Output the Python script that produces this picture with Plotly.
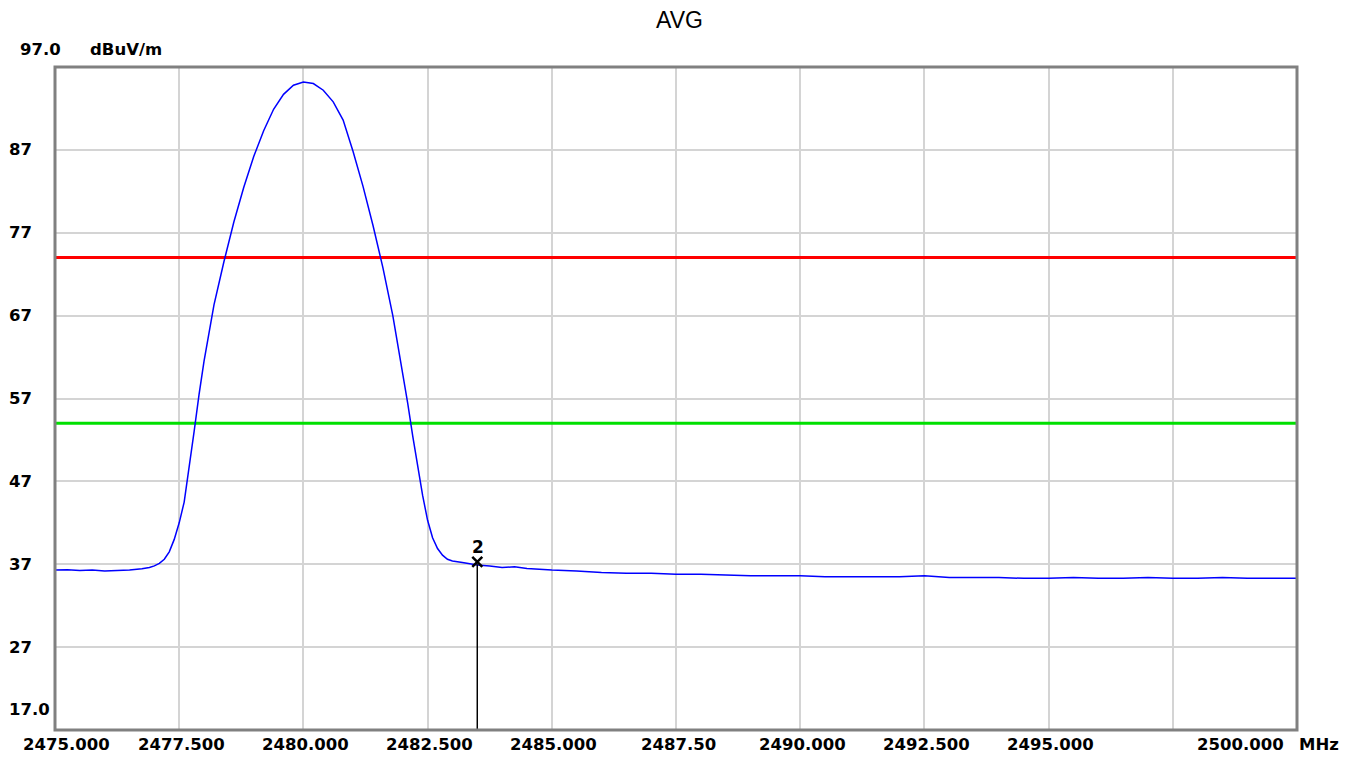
import plotly.graph_objects as go

# ---- data ----
freq_mhz = [2475.0, 2475.25, 2475.5, 2475.75, 2476.0, 2476.25, 2476.5, 2476.75, 2476.9, 2477.0,
            2477.1, 2477.2, 2477.3, 2477.4, 2477.5, 2477.6, 2477.7, 2477.8, 2477.9, 2478.0,
            2478.2, 2478.4, 2478.6, 2478.8, 2479.0, 2479.2, 2479.4, 2479.6, 2479.8, 2480.0,
            2480.2, 2480.4, 2480.6, 2480.8, 2481.0, 2481.2, 2481.4, 2481.6, 2481.8, 2482.0,
            2482.1, 2482.2, 2482.3, 2482.4, 2482.5, 2482.6, 2482.7, 2482.8, 2482.9, 2483.0,
            2483.2, 2483.5, 2483.75, 2484.0, 2484.25, 2484.5, 2484.75, 2485.0, 2485.5, 2486.0,
            2486.5, 2487.0, 2487.5, 2488.0, 2488.5, 2489.0, 2489.5, 2490.0, 2490.5, 2491.0,
            2491.5, 2492.0, 2492.5, 2493.0, 2493.5, 2494.0, 2494.5, 2495.0, 2495.5, 2496.0,
            2496.5, 2497.0, 2497.5, 2498.0, 2498.5, 2499.0, 2499.5, 2500.0]
level_dbuv = [36.3, 36.35, 36.25, 36.3, 36.2, 36.25, 36.3, 36.45, 36.6, 36.8,
              37.1, 37.6, 38.5, 40.0, 42.0, 44.5, 48.5, 53.0, 57.5, 61.5,
              68.3, 73.5, 78.3, 82.5, 86.2, 89.3, 91.9, 93.7, 94.8, 95.2,
              95.0, 94.2, 92.8, 90.6, 86.8, 82.6, 77.9, 72.8, 67.0, 60.2,
              56.4, 52.5, 48.8, 45.3, 42.3, 40.2, 38.9, 38.1, 37.6, 37.4,
              37.2, 36.9, 36.8, 36.6, 36.7, 36.5, 36.4, 36.3, 36.2, 36.0,
              35.9, 35.9, 35.8, 35.8, 35.7, 35.6, 35.6, 35.6, 35.5, 35.5,
              35.5, 35.5, 35.6, 35.4, 35.4, 35.4, 35.3, 35.3, 35.4, 35.3,
              35.3, 35.4, 35.3, 35.3, 35.4, 35.3, 35.3, 35.3]

limit_red = 74.0
limit_green = 54.0
marker_freq = 2483.5
marker_level = 37.3
marker_label = "2"

x_ticks = [2475.0, 2477.5, 2480.0, 2482.5, 2485.0, 2487.5, 2490.0, 2492.5, 2495.0, 2497.5, 2500.0]
x_tick_text = ["2475.000", "2477.500", "2480.000", "2482.500", "2485.000", "2487.50",
               "2490.000", "2492.500", "2495.000", "", "2500.000"]
y_ticks = [17, 27, 37, 47, 57, 67, 77, 87, 97]
y_tick_text = ["17.0", "27", "37", "47", "57", "67", "77", "87", ""]

X_RANGE = [2475.0, 2500.0]
Y_RANGE = [17.0, 97.0]

lab_font = dict(family="DejaVu Sans", size=16.5, color="black", weight="bold")

fig = go.Figure()
fig.add_trace(go.Scatter(x=X_RANGE, y=[limit_red, limit_red], mode="lines",
                         line=dict(color="#ff0000", width=3), hoverinfo="skip"))
fig.add_trace(go.Scatter(x=X_RANGE, y=[limit_green, limit_green], mode="lines",
                         line=dict(color="#00e000", width=3), hoverinfo="skip"))
fig.add_trace(go.Scatter(x=freq_mhz, y=level_dbuv, mode="lines",
                         line=dict(color="#0000ff", width=1.5)))
fig.add_trace(go.Scatter(x=[marker_freq, marker_freq], y=[Y_RANGE[0], marker_level - 0.3],
                         mode="lines", line=dict(color="black", width=1.5)))
fig.add_trace(go.Scatter(x=[marker_freq], y=[marker_level], mode="markers",
                         marker=dict(symbol="x-thin", size=10, line=dict(color="black", width=2.5))))

annotations = []
for v, t in zip(x_ticks, x_tick_text):
    if not t:
        continue
    shift = 2
    if v == X_RANGE[0]:
        shift = 11
    elif v == X_RANGE[1]:
        shift = -57
    annotations.append(dict(x=v, y=-0.0226, xref="x", yref="paper", text=t, showarrow=False,
                            xanchor="center", yanchor="middle", xshift=shift, font=lab_font))
annotations.append(dict(x=X_RANGE[1], y=-0.0226, xref="x", yref="paper", text="MHz", showarrow=False,
                        xanchor="left", yanchor="middle", xshift=0, font=lab_font))
for v, t in zip(y_ticks, y_tick_text):
    if not t:
        continue
    annotations.append(dict(x=-0.0386, y=v, xref="paper", yref="y", text=t, showarrow=False,
                            xanchor="left", yanchor="middle", yshift=21 if v == Y_RANGE[0] else 0,
                            font=lab_font))
annotations.append(dict(x=(18 - 55) / 1242, y=(730 - 49) / 663, xref="paper", yref="paper", text="97.0",
                        showarrow=False, xanchor="left", yanchor="middle", font=lab_font))
annotations.append(dict(x=(88 - 55) / 1242, y=(730 - 49) / 663, xref="paper", yref="paper", text="dBuV/m",
                        showarrow=False, xanchor="left", yanchor="middle", font=lab_font))
annotations.append(dict(x=marker_freq, y=marker_level, xref="x", yref="y", text=marker_label,
                        showarrow=False, xanchor="center", yanchor="middle", yshift=15, xshift=1,
                        font=dict(family="DejaVu Sans", size=17, color="black", weight="bold")))

fig.update_layout(
    width=1355, height=759,
    margin=dict(l=55, r=58, t=67, b=29),
    paper_bgcolor="white", plot_bgcolor="white",
    showlegend=False,
    title=dict(text="AVG", x=(679.5) / 1355, xanchor="center", y=1 - 20 / 759, yanchor="middle",
               font=dict(family="Liberation Sans, Arial", size=23, color="black")),
    xaxis=dict(range=X_RANGE, tickvals=x_ticks, showticklabels=False, showgrid=True,
               gridcolor="#d4d4d4", gridwidth=2, zeroline=False, showline=False, ticks=""),
    yaxis=dict(range=Y_RANGE, tickvals=y_ticks, showticklabels=False, showgrid=True,
               gridcolor="#d4d4d4", gridwidth=2, zeroline=False, showline=False, ticks=""),
    annotations=annotations,
    shapes=[dict(type="rect", xref="paper", yref="paper", x0=0, x1=1, y0=0, y1=1,
                 line=dict(color="#808080", width=3), layer="above")],
)

fig.write_html("out.html")
